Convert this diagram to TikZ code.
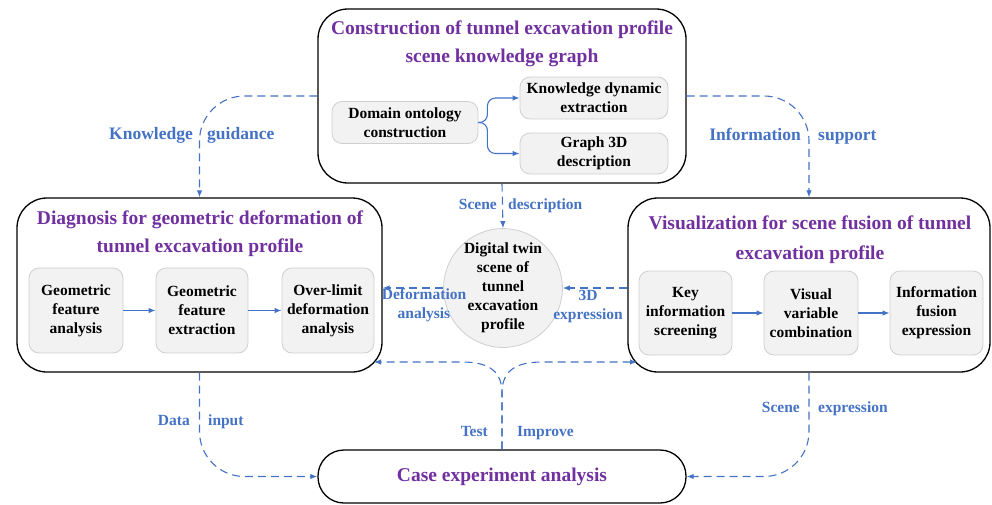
\documentclass[tikz,border=0pt]{standalone}
\usepackage{fontspec}
\setmainfont{Liberation Serif}
\usetikzlibrary{arrows.meta}
\definecolor{linkblue}{HTML}{4472C4}
\definecolor{titlepurple}{HTML}{7030A0}
\definecolor{cellfill}{HTML}{F2F2F2}
\definecolor{cellline}{HTML}{CFCFCF}
\tikzset{
  panel/.style={draw=black, line width=1.3pt, rounded corners=30pt, inner sep=0pt},
  cell/.style={draw=cellline, fill=cellfill, line width=0.8pt, rounded corners=10pt,
    align=center, inner sep=0pt, font=\fontsize{15.5}{19}\selectfont\bfseries},
  paneltitle/.style={text=titlepurple, align=center, inner sep=0pt,
    font=\fontsize{19.5}{28}\selectfont\bfseries},
  flow/.style={draw=linkblue, line width=1.1pt, -{Latex[length=7pt,width=5.5pt]}},
  link/.style={flow, dash pattern=on 8pt off 5pt},
  tag/.style={text=linkblue, inner sep=1pt, align=center,
    font=\fontsize{15.5}{19}\selectfont\bfseries},
  onetag/.style={tag, text height=11pt, text depth=0pt},
  bigtag/.style={onetag, font=\fontsize{17.5}{21}\selectfont\bfseries},
}
\begin{document}
\begin{tikzpicture}[x=1pt,y=-1pt]
\useasboundingbox (0,0) rectangle (992,504);

% --- main panels ---
\node[panel, minimum width=368pt, minimum height=174pt] (top) at (502,96) {};
\node[panel, minimum width=365pt, minimum height=174pt] (left) at (199.5,285) {};
\node[panel, minimum width=362pt, minimum height=174pt] (right) at (809,285) {};
\node[panel, rounded corners=26pt, minimum width=368pt, minimum height=53pt] (bot) at (502,476.5) {};

% --- panel titles ---
\node[paneltitle] (toptitle) at (502,44) {Construction of tunnel excavation profile\\scene knowledge graph};
\node[paneltitle] (lefttitle) at (200,234) {Diagnosis for geometric deformation of\\tunnel excavation profile};
\node[paneltitle, font=\fontsize{19.5}{30}\selectfont\bfseries] (righttitle) at (810,240) {Visualization for scene fusion of tunnel\\excavation profile};
\node[paneltitle] (bottitle) at (502,477) {Case experiment analysis};

% --- knowledge graph steps ---
\node[cell, minimum width=146pt, minimum height=42pt] (dom) at (405,122.5) {Domain ontology\\construction};
\node[cell, minimum width=148pt, minimum height=42pt] (kde) at (594,98) {Knowledge dynamic\\extraction};
\node[cell, minimum width=148pt, minimum height=41pt] (g3d) at (594,153.5) {Graph 3D\\description};

% --- deformation diagnosis steps ---
\node[cell, minimum width=94pt, minimum height=85pt] (gfa) at (76,310.5) {Geometric\\feature\\analysis};
\node[cell, minimum width=92pt, minimum height=85pt] (gfe) at (202,310.5) {Geometric\\feature\\extraction};
\node[cell, minimum width=92pt, minimum height=85pt] (old) at (328,310.5) {Over-limit\\deformation\\analysis};

% --- scene fusion steps ---
\node[cell, minimum width=93pt, minimum height=84pt] (kis) at (685.5,313) {Key\\information\\screening};
\node[cell, minimum width=94pt, minimum height=84pt] (vvc) at (811,313) {Visual\\variable\\combination};
\node[cell, minimum width=93pt, minimum height=84pt] (ife) at (936.5,313) {Information\\fusion\\expression};

% --- digital twin scene ---
\node[cell, circle, minimum size=110pt] (dt) at (503,288) {Digital twin\\scene of\\tunnel\\excavation\\profile};

% --- solid flows inside panels ---
\draw[flow, rounded corners=8pt] (dom.east) -- ++(9,0) |- (kde.west);
\draw[flow, rounded corners=8pt] (dom.east) -- ++(9,0) |- (g3d.west);
\draw[flow] (gfa) -- (gfe);
\draw[flow] (gfe) -- (old);
\draw[flow] (kis.east |- 0,313) -- (vvc.west |- 0,313);
\draw[flow] (vvc.east |- 0,313) -- (ife.west |- 0,313);

% --- dashed links between panels ---
\draw[link, rounded corners=45pt] (top.west) -| (left.north);
\draw[link, rounded corners=45pt] (top.east) -| (right.north);
\draw[link] (top.south) -- (dt.north);
\draw[link] (dt.west) -- (dt.west -| left.east);
\draw[link] (right.west |- dt.east) -- (dt.east);
\draw[link, rounded corners=45pt] (left.south) |- (bot.west);
\draw[link, rounded corners=45pt] (right.south) |- (bot.east);

\coordinate (fork) at (502,393);
\coordinate (tl) at (374,362);
\coordinate (tr) at (637,362);
\draw[link] (bot.north) -- (fork) .. controls (502,372) and (490,362) .. (462,362) -- (tl);
\draw[link] (bot.north) -- (fork) .. controls (502,372) and (514,362) .. (542,362) -- (tr);

% --- link labels ---
\node[bigtag, anchor=east] (kn) at (194,134) {Knowledge};
\node[bigtag, anchor=west] (gu) at (206,134) {guidance};
\node[bigtag, anchor=east] (inf) at (802,135) {Information};
\node[bigtag, anchor=west] (sup) at (817,135) {support};
\node[onetag, anchor=east] (sc1) at (498,204) {Scene};
\node[onetag, anchor=west] (des) at (507,204) {description};
\node[tag] (dfa) at (424,305.5) {Deformation\\analysis};
\node[tag] (exp3d) at (588,307) {3D\\expression};
\node[onetag, anchor=east] (da) at (191,420) {Data};
\node[onetag, anchor=west] (inp) at (207,420) {input};
\node[onetag, anchor=east] (te) at (489,431) {Test};
\node[onetag, anchor=west] (imp) at (516,431) {Improve};
\node[onetag, anchor=east] (sc2) at (801,407) {Scene};
\node[onetag, anchor=west] (exn) at (817,407) {expression};
\end{tikzpicture}
\end{document}
